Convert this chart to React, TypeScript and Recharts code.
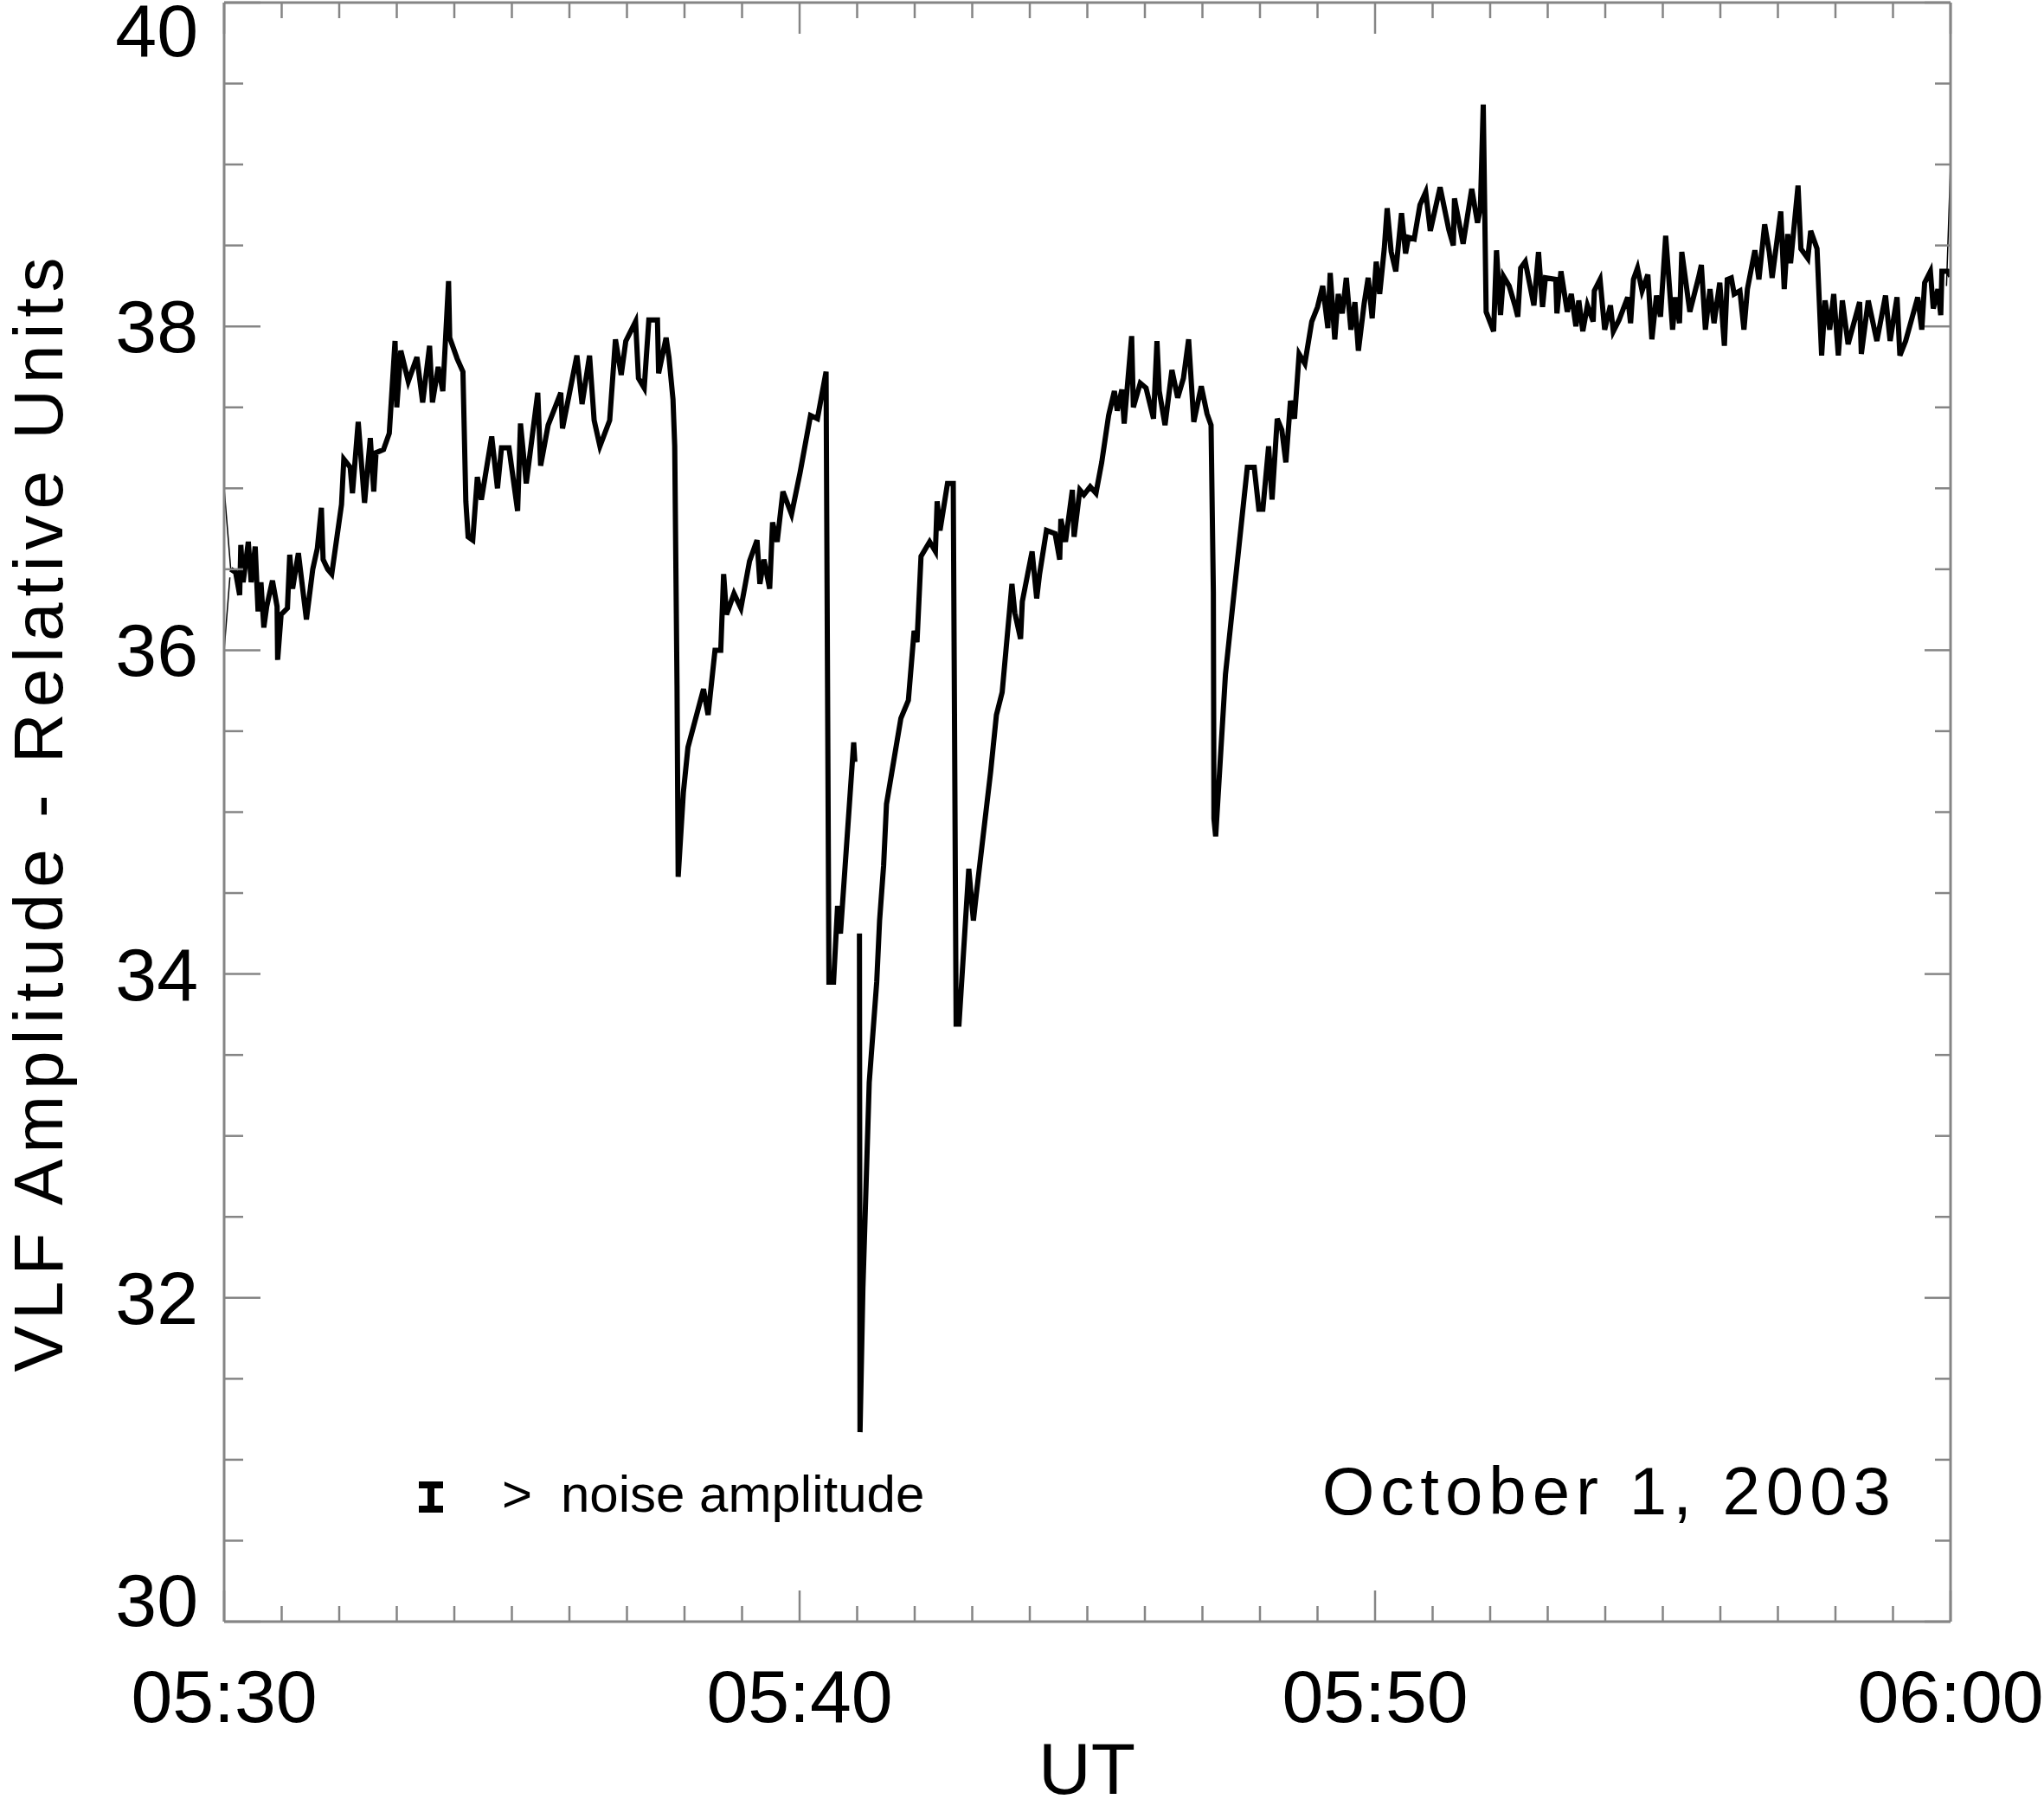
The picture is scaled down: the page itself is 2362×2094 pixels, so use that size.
import React from 'react';
import { LineChart, Line, XAxis, YAxis, Customized } from 'recharts';

// minutes after 05:30 UT
const TIME_MIN = [
  0.115, 0.2, 0.27, 0.29, 0.33, 0.42, 0.47, 0.54, 0.59, 0.64, 0.69, 0.74, 0.84, 0.92, 0.93, 0.99,
  1.1, 1.14, 1.19, 1.29, 1.43, 1.54, 1.62, 1.69, 1.72, 1.8, 1.87, 2.04, 2.08, 2.19, 2.23, 2.33,
  2.44, 2.54, 2.6, 2.64, 2.77, 2.87, 2.97, 3.0, 3.07, 3.2, 3.35, 3.45, 3.57, 3.62, 3.72, 3.8,
  3.9, 3.92, 4.05, 4.15, 4.2, 4.24, 4.32, 4.4, 4.47, 4.65, 4.75, 4.82, 4.95, 5.1, 5.15, 5.25,
  5.45, 5.5, 5.63, 5.85, 5.88, 6.13, 6.22, 6.35, 6.43, 6.53, 6.7, 6.8, 6.9, 6.98, 7.15, 7.2,
  7.3, 7.38, 7.53, 7.55, 7.68, 7.73, 7.8, 7.83, 7.87, 7.89, 7.98, 8.06, 8.33, 8.41, 8.53, 8.63,
  8.68, 8.73, 8.86, 8.98, 9.13, 9.26, 9.31, 9.38, 9.48, 9.53, 9.61, 9.71, 9.86, 10.01, 10.19, 10.31,
  10.46, 10.51, 10.59, 10.66, 10.71, 10.94, 10.96, 11.0, 11.04, 11.05, 11.1, 11.21, 11.34, 11.39, 11.46, 11.51,
  11.76, 11.89, 11.99, 12.04, 12.11, 12.26, 12.36, 12.39, 12.44, 12.57, 12.67, 12.72, 12.77, 12.94, 13.02, 13.07,
  13.32, 13.42, 13.52, 13.69, 13.74, 13.84, 13.87, 14.04, 14.12, 14.17, 14.29, 14.44, 14.52, 14.54, 14.62, 14.74,
  14.77, 14.87, 14.94, 15.05, 15.15, 15.25, 15.37, 15.47, 15.52, 15.6, 15.64, 15.77, 15.8, 15.92, 16.02, 16.15,
  16.21, 16.25, 16.35, 16.47, 16.57, 16.67, 16.76, 16.85, 16.98, 17.08, 17.15, 17.19, 17.2, 17.23, 17.4, 17.78,
  17.9, 17.98, 18.05, 18.15, 18.21, 18.3, 18.38, 18.45, 18.53, 18.6, 18.68, 18.78, 18.9, 19.0, 19.09, 19.18,
  19.22, 19.3, 19.36, 19.43, 19.5, 19.58, 19.65, 19.71, 19.81, 19.88, 19.95, 20.02, 20.08, 20.16, 20.21, 20.28,
  20.36, 20.46, 20.53, 20.58, 20.68, 20.78, 20.88, 20.96, 21.13, 21.28, 21.36, 21.38, 21.53, 21.68, 21.78, 21.83,
  21.88, 21.93, 22.06, 22.11, 22.18, 22.23, 22.33, 22.43, 22.48, 22.53, 22.61, 22.76, 22.84, 22.91, 22.96, 23.14,
  23.16, 23.23, 23.34, 23.41, 23.49, 23.54, 23.61, 23.69, 23.79, 23.81, 23.91, 23.99, 24.09, 24.14, 24.24, 24.39,
  24.44, 24.49, 24.56, 24.64, 24.74, 24.81, 24.89, 24.96, 25.05, 25.17, 25.22, 25.29, 25.33, 25.47, 25.62, 25.67,
  25.74, 25.82, 25.89, 25.99, 26.07, 26.12, 26.19, 26.24, 26.34, 26.41, 26.47, 26.6, 26.67, 26.77, 26.85, 26.9,
  27.05, 27.11, 27.17, 27.22, 27.35, 27.4, 27.52, 27.57, 27.68, 27.76, 27.82, 27.9, 27.97, 28.05, 28.12, 28.22,
  28.42, 28.45, 28.57, 28.72, 28.87, 28.95, 29.07, 29.12, 29.22, 29.43, 29.5, 29.55, 29.65, 29.7, 29.78, 29.83,
  29.85, 29.95, 30.0,
];

// VLF amplitude, relative units (null = data gap)
const VLF_AMP = [
  36.5, 36.48, 36.34, 36.65, 36.42, 36.67, 36.42, 36.64, 36.24, 36.42, 36.14, 36.27, 36.43, 36.27, 35.94, 36.22,
  36.26, 36.59, 36.38, 36.6, 36.19, 36.5, 36.63, 36.88, 36.56, 36.5, 36.47, 36.9, 37.18, 37.13, 36.97, 37.41,
  36.91, 37.31, 36.98, 37.22, 37.24, 37.34, 37.91, 37.5, 37.85, 37.66, 37.81, 37.53, 37.88, 37.53, 37.75, 37.6,
  38.28, 37.93, 37.8, 37.72, 36.92, 36.7, 36.68, 37.07, 36.93, 37.32, 37.0, 37.25, 37.25, 36.86, 37.4, 37.03,
  37.59, 37.14, 37.39, 37.59, 37.37, 37.82, 37.52, 37.82, 37.42, 37.26, 37.42, 37.92, 37.7, 37.91, 38.03, 37.68,
  37.62, 38.04, 38.04, 37.71, 37.93, 37.81, 37.55, 37.26, 35.78, 34.6, 35.12, 35.4, 35.76, 35.6, 36.0, 36.0,
  36.47, 36.22, 36.35, 36.26, 36.55, 36.68, 36.41, 36.56, 36.38, 36.79, 36.67, 36.98, 36.84, 37.1, 37.45, 37.43,
  37.72, 33.95, 33.95, 34.42, 34.25, 35.43, 35.31, null, 34.25, 31.17, 32.06, 33.33, 33.95, 34.33, 34.67, 35.05,
  35.58, 35.69, 36.12, 36.05, 36.58, 36.67, 36.61, 36.92, 36.74, 37.03, 37.03, 33.69, 33.69, 34.65, 34.33, 34.49,
  35.25, 35.6, 35.74, 36.41, 36.23, 36.07, 36.3, 36.61, 36.32, 36.47, 36.74, 36.72, 36.56, 36.81, 36.67, 36.99,
  36.7, 36.99, 36.96, 37.01, 36.97, 37.16, 37.45, 37.6, 37.48, 37.61, 37.4, 37.94, 37.5, 37.65, 37.62, 37.43,
  37.91, 37.6, 37.39, 37.73, 37.56, 37.68, 37.92, 37.41, 37.63, 37.46, 37.39, 36.36, 34.96, 34.85, 35.85, 37.13,
  37.13, 36.87, 36.87, 37.26, 36.93, 37.43, 37.36, 37.16, 37.54, 37.43, 37.83, 37.77, 38.03, 38.12, 38.25, 37.99,
  38.33, 37.92, 38.2, 38.08, 38.3, 37.98, 38.15, 37.85, 38.14, 38.3, 38.05, 38.4, 38.2, 38.48, 38.73, 38.46,
  38.34, 38.7, 38.45, 38.55, 38.54, 38.75, 38.83, 38.59, 38.86, 38.6, 38.5, 38.79, 38.51, 38.85, 38.64, 38.73,
  39.37, 38.09, 37.97, 38.47, 38.07, 38.31, 38.25, 38.13, 38.06, 38.36, 38.4, 38.13, 38.46, 38.12, 38.3, 38.29,
  38.08, 38.34, 38.09, 38.2, 38.0, 38.16, 37.97, 38.13, 38.03, 38.22, 38.29, 37.98, 38.13, 37.97, 38.04, 38.18,
  38.02, 38.29, 38.36, 38.22, 38.32, 37.92, 38.19, 38.06, 38.56, 37.98, 38.18, 38.02, 38.46, 38.09, 38.3, 38.38,
  37.98, 38.23, 38.02, 38.27, 37.88, 38.29, 38.3, 38.2, 38.22, 37.98, 38.23, 38.47, 38.29, 38.63, 38.46, 38.3,
  38.71, 38.23, 38.57, 38.39, 38.87, 38.48, 38.42, 38.59, 38.48, 37.82, 38.16, 37.98, 38.2, 37.82, 38.16, 37.89,
  38.15, 37.83, 38.16, 37.91, 38.19, 37.91, 38.18, 37.82, 37.91, 38.18, 37.98, 38.27, 38.34, 38.11, 38.23, 38.07,
  38.34, 38.34, 38.31,
];

// thin start / end strokes of the record
const EDGE_MIN = [0, 0.115, 0.12, 0, 0.1, 29.9, 29.93, 30];
const EDGE_AMP = [37.0, 36.5, null, 36.0, 36.45, null, 38.25, 39.0];

const MINUTE_TICKS = [
  0, 1, 2, 3, 4, 5, 6, 7, 8, 9, 10, 11, 12, 13, 14, 15, 16, 17, 18, 19, 20, 21, 22, 23, 24, 25, 26, 27, 28, 29, 30,
];
const TIME_LABELS: Record<number, string> = { 0: '05:30', 10: '05:40', 20: '05:50', 30: '06:00' };
const AMP_TICKS = [
  30, 30.5, 31, 31.5, 32, 32.5, 33, 33.5, 34, 34.5, 35, 35.5, 36, 36.5, 37, 37.5, 38, 38.5, 39, 39.5, 40,
];

const mainData = TIME_MIN.map((m, i) => ({ m, v: VLF_AMP[i] }));
const edgeData = EDGE_MIN.map((m, i) => ({ m, v: EDGE_AMP[i] }));

const GREY = '#858585';
const FONT = '"Liberation Sans", Arial, sans-serif';

const BottomTick = (props: any) => {
  const { x, y, payload } = props;
  const major = payload.value % 10 === 0;
  return (
    <g>
      <line x1={x} y1={y} x2={x} y2={y - (major ? 36 : 18)} stroke={GREY} strokeWidth={2.5} />
      {major && (
        <text x={x} y={y + 86} textAnchor="middle" dominantBaseline="central" fontSize={86} fontFamily={FONT} fill="#000">
          {TIME_LABELS[payload.value]}
        </text>
      )}
    </g>
  );
};

const TopTick = (props: any) => {
  const { x, y, payload } = props;
  const major = payload.value % 10 === 0;
  return <line x1={x} y1={y} x2={x} y2={y + (major ? 36 : 18)} stroke={GREY} strokeWidth={2.5} />;
};

const LeftTick = (props: any) => {
  const { x, y, payload } = props;
  const v = payload.value;
  const major = v % 2 === 0;
  let ly = y;
  if (v === 40) ly = y + 32;
  if (v === 30) ly = y - 25;
  return (
    <g>
      <line x1={x} y1={y} x2={x + (major ? 42 : 22)} y2={y} stroke={GREY} strokeWidth={2.5} />
      {major && (
        <text x={x - 30} y={ly} textAnchor="end" dominantBaseline="central" fontSize={86} fontFamily={FONT} fill="#000">
          {v}
        </text>
      )}
    </g>
  );
};

const RightTick = (props: any) => {
  const { x, y, payload } = props;
  const major = payload.value % 2 === 0;
  return <line x1={x} y1={y} x2={x - (major ? 30 : 18)} y2={y} stroke={GREY} strokeWidth={2.5} />;
};

const Annotations = () => (
  <g fontFamily={FONT} fill="#000">
    <text
      transform="translate(44,938) rotate(-90)"
      textAnchor="middle"
      dominantBaseline="central"
      fontSize={80}
      letterSpacing={7}
    >
      VLF Amplitude - Relative Units
    </text>
    <text x={1256} y={2044} textAnchor="middle" dominantBaseline="central" fontSize={84}>
      UT
    </text>
    {/* noise-amplitude bar */}
    <g stroke="#000" strokeWidth={8}>
      <line x1={498} y1={1712} x2={498} y2={1748} />
      <line x1={484} y1={1716} x2={512} y2={1716} />
      <line x1={484} y1={1744} x2={512} y2={1744} />
    </g>
    <text x={580} y={1747} fontSize={60}>
      &gt;
    </text>
    <text x={648} y={1747} fontSize={60}>
      noise amplitude
    </text>
    <text x={2192} y={1750} textAnchor="end" fontSize={78} letterSpacing={7}>
      October 1, 2003
    </text>
  </g>
);

export default function App() {
  return (
    <div style={{ position: 'absolute', left: 0, top: 0, background: '#fff' }}>
      <LineChart width={2362} height={2094} margin={{ top: 2, right: 107, bottom: 0, left: 0 }}>
        <XAxis
          xAxisId="b"
          type="number"
          dataKey="m"
          domain={[0, 30]}
          ticks={MINUTE_TICKS}
          interval={0}
          height={220}
          tickSize={0}
          tickMargin={0}
          tickLine={false}
          tick={<BottomTick />}
          axisLine={{ stroke: GREY, strokeWidth: 3 }}
          allowDataOverflow
        />
        <XAxis
          xAxisId="t"
          orientation="top"
          type="number"
          dataKey="m"
          domain={[0, 30]}
          ticks={MINUTE_TICKS}
          interval={0}
          height={1}
          tickSize={0}
          tickMargin={0}
          tickLine={false}
          tick={<TopTick />}
          axisLine={{ stroke: GREY, strokeWidth: 3 }}
          allowDataOverflow
        />
        <YAxis
          yAxisId="l"
          type="number"
          domain={[30, 40]}
          ticks={AMP_TICKS}
          interval={0}
          width={259}
          tickSize={0}
          tickMargin={0}
          tickLine={false}
          tick={<LeftTick />}
          axisLine={{ stroke: GREY, strokeWidth: 3 }}
          allowDataOverflow
        />
        <YAxis
          yAxisId="r"
          orientation="right"
          type="number"
          domain={[30, 40]}
          ticks={AMP_TICKS}
          interval={0}
          width={1}
          tickSize={0}
          tickMargin={0}
          tickLine={false}
          tick={<RightTick />}
          axisLine={{ stroke: GREY, strokeWidth: 3 }}
          allowDataOverflow
        />
        <Line
          xAxisId="b"
          yAxisId="l"
          data={edgeData}
          dataKey="v"
          type="linear"
          stroke="#000"
          strokeWidth={1.5}
          dot={false}
          activeDot={false}
          connectNulls={false}
          isAnimationActive={false}
        />
        <Line
          xAxisId="b"
          yAxisId="l"
          data={mainData}
          dataKey="v"
          type="linear"
          stroke="#000"
          strokeWidth={6}
          dot={false}
          activeDot={false}
          connectNulls={false}
          isAnimationActive={false}
        />
        <Customized component={Annotations} />
      </LineChart>
    </div>
  );
}
